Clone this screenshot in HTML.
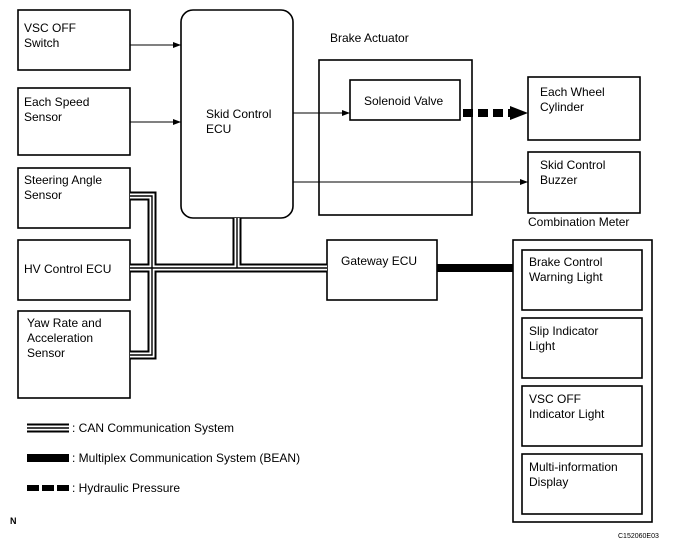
<!DOCTYPE html><html><head><style>
body{margin:0;background:#fff;}
svg text{font-family:"Liberation Sans",Arial,sans-serif;font-size:12px;fill:#000;}
</style></head><body>
<svg width="679" height="547" viewBox="0 0 679 547" xmlns="http://www.w3.org/2000/svg">
<defs><marker id="a" markerWidth="8" markerHeight="6" refX="8" refY="3" orient="auto" markerUnits="userSpaceOnUse"><path d="M0,0 L8,3 L0,6z" fill="#000"/></marker></defs>
<g fill="none" stroke="#000" stroke-width="1.6">
<rect x="18" y="10" width="112" height="60"/>
<rect x="18" y="88" width="112" height="67"/>
<rect x="18" y="168" width="112" height="60"/>
<rect x="18" y="240" width="112" height="60"/>
<rect x="18" y="311" width="112" height="87"/>
<rect x="181" y="10" width="112" height="208" rx="12"/>
<rect x="319" y="60" width="153" height="155"/>
<rect x="350" y="80" width="110" height="40"/>
<rect x="528" y="77" width="112" height="63"/>
<rect x="528" y="152" width="112" height="61"/>
<rect x="327" y="240" width="110" height="60"/>
<rect x="513" y="240" width="139" height="282"/>
<rect x="522" y="250" width="120" height="60"/>
<rect x="522" y="318" width="120" height="60"/>
<rect x="522" y="386" width="120" height="60"/>
<rect x="522" y="454" width="120" height="60"/>
</g>
<g stroke="#000" stroke-width="1" fill="none" marker-end="url(#a)">
<line x1="130" y1="45" x2="181" y2="45"/>
<line x1="130" y1="122" x2="181" y2="122"/>
<line x1="293" y1="113" x2="350" y2="113"/>
<line x1="293" y1="182" x2="528" y2="182"/>
</g>
<line x1="463" y1="113" x2="510" y2="113" stroke="#000" stroke-width="8" stroke-dasharray="10,5"/>
<path d="M510,106 L528,113 L510,120z" fill="#000"/>
<line x1="437" y1="268" x2="513" y2="268" stroke="#000" stroke-width="8"/>
<g fill="none" stroke-linejoin="miter">
<path d="M130,196 H152 V355 H130 M130,268 H327 M237,218 V268" stroke="#000" stroke-width="9"/>
<path d="M130,196 H152 V355 H130 M130,268 H327 M237,218 V268" stroke="#fff" stroke-width="5"/>
<path d="M130,196 H152 V355 H130 M130,268 H327 M237,218 V268" stroke="#000" stroke-width="1.4"/>
</g>
<text x="24" y="32">VSC OFF</text><text x="24" y="47">Switch</text>
<text x="24" y="106">Each Speed</text><text x="24" y="121">Sensor</text>
<text x="24" y="184">Steering Angle</text><text x="24" y="199">Sensor</text>
<text x="24" y="273">HV Control ECU</text>
<text x="27" y="327">Yaw Rate and</text><text x="27" y="342">Acceleration</text><text x="27" y="357">Sensor</text>
<text x="206" y="118">Skid Control</text><text x="206" y="133">ECU</text>
<text x="330" y="42">Brake Actuator</text>
<text x="364" y="105">Solenoid Valve</text>
<text x="540" y="96">Each Wheel</text><text x="540" y="111">Cylinder</text>
<text x="540" y="169">Skid Control</text><text x="540" y="184">Buzzer</text>
<text x="528" y="226">Combination Meter</text>
<text x="341" y="265">Gateway ECU</text>
<text x="529" y="266">Brake Control</text><text x="529" y="281">Warning Light</text>
<text x="529" y="335">Slip Indicator</text><text x="529" y="350">Light</text>
<text x="529" y="403">VSC OFF</text><text x="529" y="418">Indicator Light</text>
<text x="529" y="471">Multi-information</text><text x="529" y="486">Display</text>
<g fill="none">
<line x1="27" y1="428" x2="69" y2="428" stroke="#000" stroke-width="9"/>
<line x1="27" y1="428" x2="69" y2="428" stroke="#fff" stroke-width="5"/>
<line x1="27" y1="428" x2="69" y2="428" stroke="#000" stroke-width="1.4"/>
<line x1="27" y1="458" x2="69" y2="458" stroke="#000" stroke-width="8"/>
<line x1="27" y1="488" x2="69" y2="488" stroke="#000" stroke-width="6" stroke-dasharray="12,3"/>
</g>
<text x="72" y="432">: CAN Communication System</text>
<text x="72" y="462">: Multiplex Communication System (BEAN)</text>
<text x="72" y="492">: Hydraulic Pressure</text>
<text x="10" y="524" style="font-size:9px;font-weight:bold">N</text>
<text x="618" y="538" style="font-size:7px">C152060E03</text>
</svg>
</body></html>
